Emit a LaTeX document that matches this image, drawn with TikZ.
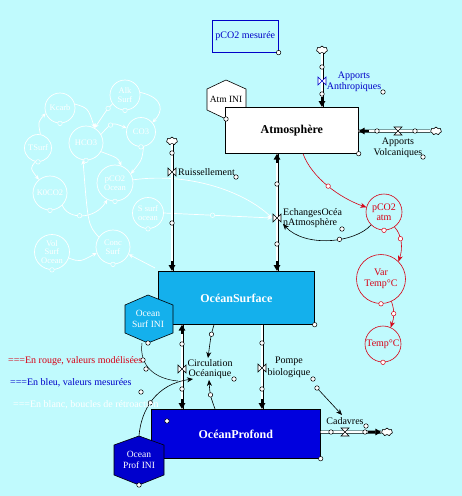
\documentclass[tikz,border=0pt]{standalone}
\usepackage{fontspec}
\setmainfont{Liberation Serif}
\usetikzlibrary{arrows.meta,shapes.symbols,calc}
\definecolor{bgc}{RGB}{192,250,253}
\definecolor{surfc}{RGB}{20,176,236}
\definecolor{profc}{RGB}{0,0,222}
\definecolor{profhex}{RGB}{0,0,205}
\definecolor{redc}{RGB}{215,0,20}
\definecolor{bluec}{RGB}{0,0,200}
\begin{document}
\begin{tikzpicture}[x=1pt,y=-1pt,
  lbl/.style={inner sep=0pt, font=\fontsize{10}{10.5}\selectfont, align=center},
  handle/.style={circle, draw=black, fill=white, inner sep=0pt, minimum size=4.5pt, line width=0.5pt},
  whandle/.style={circle, draw=white, fill=bgc, inner sep=0pt, minimum size=4.5pt, line width=0.5pt},
  pipe/.style={line width=0.6pt, double=white, double distance=1.8pt},
  tip/.style={-{Triangle[length=6pt,width=6.5pt]}, line width=1.8pt},
  stock/.style={draw=black, line width=0.7pt, inner sep=0pt, anchor=north west, font=\bfseries\fontsize{12}{12}\selectfont},
  hexl/.style={draw=black, line width=0.6pt},
  rc/.style={circle, draw=redc, text=redc, line width=0.6pt, inner sep=0pt, align=center, font=\fontsize{10}{10.5}\selectfont},
  wc/.style={circle, draw=white, text=white, line width=0.7pt, inner sep=0pt, align=center, font=\fontsize{8.5}{8.8}\selectfont},
  wl/.style={draw=white, line width=0.7pt, -{Stealth[length=4.5pt,width=4pt]}},
  rl/.style={draw=redc, line width=0.6pt, -{Stealth[length=6pt,width=5pt]}},
  bl/.style={draw=black, line width=0.6pt, -{Stealth[length=6pt,width=5pt]}},
  cloudn/.style={cloud, cloud puffs=7, draw=black, fill=white, line width=0.6pt, minimum width=11pt, minimum height=8pt, inner sep=0pt, aspect=1.4},
  valveV/.pic={\draw[fill=white, line width=0.6pt, pic actions] (-4,-4) -- (4,4) -- (4,-4) -- (-4,4) -- cycle;},
  valveH/.pic={\draw[fill=white, line width=0.6pt, pic actions] (-4,-4) -- (4,4) -- (-4,4) -- (4,-4) -- cycle;}
]
\fill[bgc] (0,0) rectangle (462,496);
\useasboundingbox (0,0) rectangle (462,496);

% ---------- white feedback network ----------
\node[wc, minimum size=30pt] (kcarb) at (60,108) {Kcarb};
\node[wc, minimum size=30pt] (alk) at (125,95) {Alk\\Surf};
\node[wc, minimum size=29pt] (co3) at (141,132) {CO3};
\node[wc, minimum size=34pt] (hco3) at (86,143) {HCO3};
\node[wc, minimum size=27pt] (tsurf) at (38,148) {TSurf};
\node[wc, minimum size=36pt] (pco2o) at (115,183) {pCO2\\Ocean};
\node[wc, minimum size=34pt] (kco2) at (50,193) {K0CO2};
\node[wc, minimum size=31pt] (ssurf) at (148,213) {S surf\\ocean};
\node[wc, minimum size=35pt] (vol) at (52,252) {Vol\\Surf\\Ocean};
\node[wc, minimum size=34pt] (conc) at (113,247) {Conc\\Surf};
\foreach \n in {kcarb,alk,co3,hco3,tsurf,pco2o,kco2,ssurf,vol,conc}
  \node[whandle] at (\n.south) {};

\coordinate (vE) at (277,218);

\draw[wl] (tsurf.80) .. controls (38,122) .. (kcarb.200);
\draw[wl] (kcarb.15) .. controls (88,108) .. (hco3.60);
\draw[wl] (alk.215) .. controls (108,108) .. node[whandle, pos=0.4] {} (hco3.60);
\draw[wl] (alk.10) .. controls (165,98) and (163,112) .. (co3.40);
\draw[wl] (hco3.30) .. controls (112,122) .. node[whandle, pos=0.4] {} (co3.165);
\draw[wl] (hco3.-30) .. controls (118,158) .. (pco2o.70);
\draw[wl] (co3.-80) .. controls (142,160) .. (pco2o.30);
\draw[wl] (tsurf.-100) .. controls (30,168) .. (kco2.130);
\draw[wl] (kco2.-45) .. controls (68,220) and (95,220) .. node[whandle, pos=0.45] {} (pco2o.245);
\draw[wl] (conc.145) .. controls (88,225) .. (hco3.-100);
\draw[wl] (vol.-20) .. controls (80,262) .. (conc.200);
\draw[wl] ($(155,268)$) -- (conc.-25);
\draw[wl] (pco2o.10) .. controls (190,172) and (245,192) .. ($(vE)+(-5,0)$);
\draw[wl] (ssurf.east) -- node[whandle, pos=0.45] {} ($(vE)+(-5,0)$);

% ---------- pCO2 mesuree ----------
\node[draw=bluec, line width=0.6pt, text=bluec, lbl, minimum width=66pt, minimum height=32pt, anchor=north west] (pm) at (212,20) {pCO2 mesurée};
\node[handle] at (pm.south east) {};

% ---------- Atmosphere ----------
\draw[hexl, fill=white] (226,80) -- (246,89) -- (246,110) -- (226,119) -- (207,110) -- (207,89) -- cycle;
\node[lbl, font=\fontsize{9.5}{10}\selectfont] (atmini) at (226,99) {Atm INI};
\node[stock, fill=white, minimum width=133pt, minimum height=46pt] (atm) at (225,107) {Atmosphère};
\node[handle] at (226,119) {};
\node[handle] at (atm.south east) {};

% ---------- Ocean Surface ----------
\node[stock, fill=surfc, text=white, minimum width=156pt, minimum height=53pt] (surf) at (158,271) {OcéanSurface};
\node[handle] at (surf.south east) {};
\draw[hexl, fill=surfc] (148,295) -- (173,305) -- (173,333) -- (148,343) -- (125,333) -- (125,305) -- cycle;
\node[lbl, text=white, font=\fontsize{9.5}{11.5}\selectfont] (surfini) at (148,319) {Ocean\\Surf INI};
\node[handle] at (148,343) {};

% ---------- Ocean Profond ----------
\node[stock, fill=profc, text=white, minimum width=169pt, minimum height=49pt] (prof) at (151,409) {OcéanProfond};
\node[handle] at (prof.south east) {};
\node[handle] at (167,421) {};
\draw[hexl, fill=profhex] (139,436) -- (164,445) -- (164,475) -- (139,485) -- (114,475) -- (114,445) -- cycle;
\node[lbl, text=white, font=\fontsize{9.5}{11.5}\selectfont] (profini) at (139,460) {Ocean\\Prof INI};
\node[handle] at (139,485) {};

% ---------- Apports Anthropiques ----------
\node[cloudn] (cl1) at (322,50) {};
\draw[pipe] (cl1.south) -- (cl1 |- atm.north);
\node[handle] at (322,67) {};
\node[handle] at (322,94) {};
\pic[draw=bluec] at (322,81) {valveV};
\draw[tip] (322,97) -- (cl1 |- atm.north);
\node[lbl, text=bluec] (anthl) at (354,82) {Apports\\Anthropiques};
\node[handle] at (383,92) {};

% ---------- Apports Volcaniques ----------
\node[cloudn] (cl2) at (436,131) {};
\draw[pipe] (cl2.west) -- (atm.east |- cl2);
\node[handle] at (377,131) {};
\node[handle] at (415,131) {};
\pic at (398,131) {valveH};
\draw[tip] (369,131) -- (atm.east |- cl2);
\node[lbl] (volcl) at (398,148) {Apports\\Volcaniques};
\node[handle] at (423,157) {};

% ---------- Ruissellement ----------
\node[cloudn] (cl3) at (172,141) {};
\draw[pipe] (cl3.south) -- (cl3 |- surf.north);
\node[handle] at (172,153) {};
\node[handle] at (172,223) {};
\pic at (172,172) {valveV};
\draw[tip] (172,261) -- (cl3 |- surf.north);
\node[lbl, anchor=west] (ruisl) at (178,172) {Ruissellement};
\node[handle] at (236,177) {};

% ---------- Echanges Ocean Atmosphere ----------
\draw[pipe] (vE |- atm.south) -- (vE |- surf.north);
\draw[tip] (277,163) -- (vE |- atm.south);
\draw[tip] (277,261) -- (vE |- surf.north);
\node[handle] at (277,184) {};
\node[handle] at (277,244) {};
\pic at (vE) {valveV};
\node[lbl, anchor=west, align=left] (echl) at (283,218) {EchangesOcéa\\nAtmosphère};
\node[handle] at (342,229) {};

% ---------- red modelled chain ----------
\node[rc, minimum size=36pt] (pca) at (384,212) {pCO2\\atm};
\node[rc, minimum size=49pt] (vt) at (381,279) {Var\\Temp°C};
\node[rc, minimum size=36pt] (tc) at (383,344) {Temp°C};
\foreach \n in {pca,vt,tc} \node[handle, draw=redc] at (\n.south) {};
\draw[rl] ($(atm.south west)+(78,0)$) .. controls (312,178) and (340,198) .. node[handle, draw=redc, pos=0.5] {} (pca.165);
\draw[rl] (pca.-55) .. controls (402,235) and (403,248) .. node[handle, draw=redc, pos=0.4] {} (vt.45);
\draw[rl] (vt.-65) .. controls (395,312) and (394,318) .. node[handle, draw=redc, pos=0.45] {} (tc.65);
\draw[bl] (pca.225) .. controls (355,243) and (305,248) .. node[handle, pos=0.4] {} ($(vE)+(6,6)$);

% ---------- Circulation Oceanique ----------
\coordinate (cx) at (182,0);
\draw[pipe] (cx |- surf.south) -- (cx |- prof.north);
\draw[tip] (182,334) -- (cx |- surf.south);
\draw[tip] (182,399) -- (cx |- prof.north);
\node[handle] at (182,344) {};
\node[handle] at (182,389) {};
\pic at (182,369) {valveV};
\node[lbl] (circl) at (210,369) {Circulation\\Océanique};
\node[handle] at (234,379) {};
\draw[bl] ($(surf.south west)+(56,0)$) .. controls (211,335) .. node[handle, pos=0.4] {} ($(circl.north)+(-2,-1)$);
\draw[bl] ($(prof.north west)+(64,0)$) .. controls (210,395) .. node[handle, pos=0.5] {} ($(circl.south)+(-1,1)$);

% ---------- Pompe biologique ----------
\coordinate (px) at (262,0);
\draw[pipe] (px |- surf.south) -- (px |- prof.north);
\draw[tip] (262,399) -- (px |- prof.north);
\node[handle] at (262,343) {};
\node[handle] at (262,389) {};
\pic at (262,368) {valveV};
\node[lbl, font=\fontsize{10}{12}\selectfont] (pompl) at (289,367) {Pompe\\biologique};
\node[handle] at (313,379) {};

% ---------- Cadavres ----------
\node[cloudn] (cl4) at (387,432) {};
\draw[pipe] (prof.east |- cl4) -- (cl4.west);
\draw[tip] (368,432) -- (cl4.west);
\node[handle] at (331,432) {};
\node[handle] at (365,432) {};
\pic at (345,432) {valveH};
\node[lbl] (cadl) at (345,421) {Cadavres};
\node[handle] at (366,426) {};
\draw[bl] (317,388) -- node[handle, pos=0] {} (342,415);

% ---------- initial-value links ----------
\draw[draw=black, line width=0.5pt] (142,343) .. controls (139,366) and (155,379) .. (178,381);
\node[handle] at (143,360) {};
\node[handle] at (146,369) {};
\draw[bl] (139,436) .. controls (141,410) and (156,384) .. node[handle, pos=0.45] {} (193,379);
\node[handle] at (141,392) {};

% ---------- legend ----------
\node[lbl, anchor=west, text=redc] (legr) at (8,361) {===En rouge, valeurs modélisées};
\node[lbl, anchor=west, text=bluec] (legb) at (10,383) {===En bleu, valeurs mesurées};
\node[lbl, anchor=west, text=white] (legw) at (13,405) {===En blanc, boucles de rétroaction};
\end{tikzpicture}
\end{document}
